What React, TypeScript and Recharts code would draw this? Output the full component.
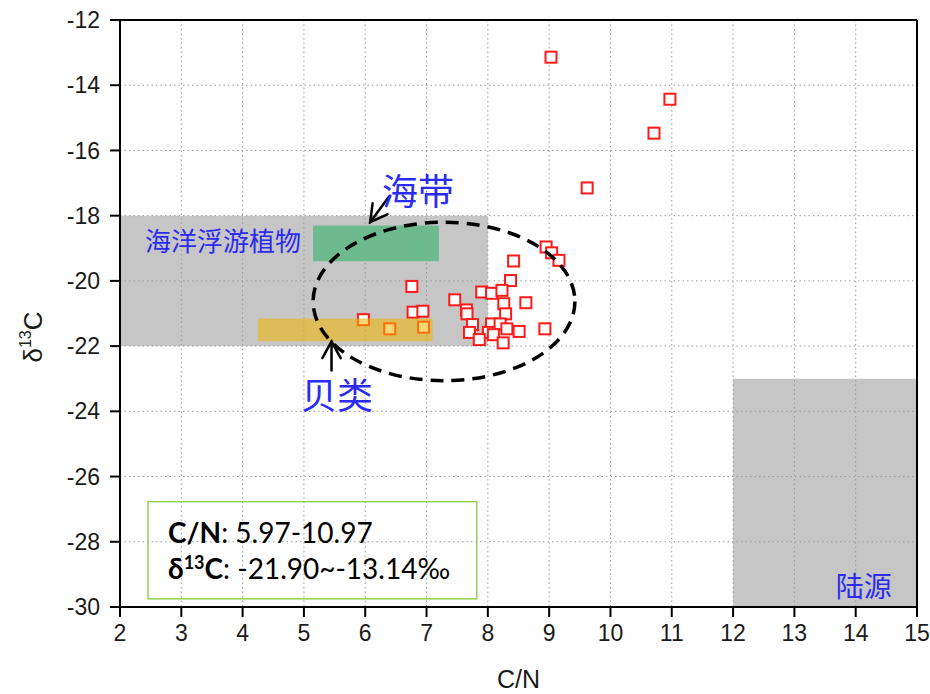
import {
  ScatterChart,
  Scatter,
  XAxis,
  YAxis,
  CartesianGrid,
  ReferenceArea,
  ReferenceLine,
  ReferenceDot,
} from "recharts";

// C/N ratio and δ13C (‰) of the sediment samples
const cnValues = [
  9.03, 10.97, 10.71, 9.62, 8.95, 9.04, 9.16, 8.42, 8.37, 6.76, 7.9, 8.06,
  8.23, 7.46, 8.62, 8.26, 7.65, 7.66, 8.29, 6.78, 6.94, 5.97, 6.4, 6.95, 7.75,
  8.06, 8.2, 8.31, 7.7, 8.01, 8.09, 8.51, 8.93, 7.86, 8.25,
];
const d13cValues = [
  -13.14, -14.43, -15.47, -17.15, -18.96, -19.14, -19.37, -19.39, -19.99,
  -20.17, -20.34, -20.38, -20.29, -20.58, -20.67, -20.7, -20.89, -21.01,
  -21.01, -20.96, -20.93, -21.19, -21.47, -21.42, -21.34, -21.32, -21.32,
  -21.47, -21.58, -21.58, -21.65, -21.55, -21.47, -21.8, -21.9,
];

const xTicks = [2, 3, 4, 5, 6, 7, 8, 9, 10, 11, 12, 13, 14, 15];
const yTicks = [-30, -28, -26, -24, -22, -20, -18, -16, -14, -12];

// source end-member ranges
const marinePlankton = { x1: 2, x2: 8, y1: -22, y2: -18 };
const kelp = { x1: 5.15, x2: 7.2, y1: -19.4, y2: -18.3 };
const shellfish = { x1: 4.25, x2: 7.1, y1: -21.85, y2: -21.15 };
const terrestrial = { x1: 12, x2: 15, y1: -30, y2: -23 };

const sampleRange = { x1: 5.15, x2: 9.42, y1: -23.06, y2: -18.2 };
const statsBox = { x1: 2.457, x2: 7.82, y1: -29.75, y2: -26.77 };

const notes = [
  { text: "海洋浮游植物", x: 3.68, y: -18.73, size: 26 },
  { text: "海带", x: 6.86, y: -17.19, size: 36 },
  { text: "贝类", x: 5.54, y: -23.43, size: 36 },
  { text: "陆源", x: 14.13, y: -29.34, size: 28 },
];

const arrows = [
  { from: { x: 6.39, y: -17.41 }, to: { x: 6.08, y: -18.2 } },
  { from: { x: 5.45, y: -22.75 }, to: { x: 5.45, y: -21.86 } },
];

const data = cnValues.map((cn, i) => ({ cn, d13c: d13cValues[i] }));

const BLUE = "#2b2bf2";
const CJK = "'Noto Sans CJK SC', sans-serif";
const AXIS_FONT = "'Liberation Sans', Arial, sans-serif";

function SquareMark(props: any) {
  const { cx, cy } = props;
  return (
    <rect
      x={cx - 5.5}
      y={cy - 5.5}
      width={11}
      height={11}
      fill="#fff"
      stroke="#ff1a1a"
      strokeWidth={2}
    />
  );
}

function Arrow(props: any) {
  const { x1, y1, x2, y2 } = props;
  const ang = Math.atan2(y1 - y2, x1 - x2);
  const len = 19;
  const spread = (29 * Math.PI) / 180;
  const a1 = { x: x2 + len * Math.cos(ang + spread), y: y2 + len * Math.sin(ang + spread) };
  const a2 = { x: x2 + len * Math.cos(ang - spread), y: y2 + len * Math.sin(ang - spread) };
  return (
    <g stroke="#000" strokeWidth={2.5} fill="none" strokeLinecap="round">
      <line x1={x1} y1={y1} x2={x2} y2={y2} />
      <polyline points={`${a1.x},${a1.y} ${x2},${y2} ${a2.x},${a2.y}`} />
    </g>
  );
}

function StatsBox(props: any) {
  const { x, y, width, height } = props;
  return (
    <g>
      <rect x={x} y={y} width={width} height={height} fill="none" stroke="#92d050" strokeWidth={1.5} />
      <text x={x + 20} y={y + 41} fontFamily="Lato, sans-serif" fontSize={28} fill="#000">
        <tspan fontWeight="bold">C/N</tspan>: 5.97-10.97
      </text>
      <text x={x + 20} y={y + 77} fontFamily="Lato, sans-serif" fontSize={28} fill="#000">
        <tspan fontWeight="bold">δ</tspan>
        <tspan fontWeight="bold" fontSize={18} dy={-10}>13</tspan>
        <tspan fontWeight="bold" dy={10}>C</tspan>: -21.90~-13.14‰
      </text>
    </g>
  );
}

function RangeEllipse(props: any) {
  const { x, y, width, height } = props;
  return (
    <ellipse
      cx={x + width / 2}
      cy={y + height / 2}
      rx={width / 2}
      ry={height / 2}
      fill="none"
      stroke="#000"
      strokeWidth={3.5}
      strokeDasharray="13 8"
    />
  );
}

export default function App() {
  // pinned to the viewport so the page never grows a scrollbar
  return (
    <div style={{ position: "fixed", left: 0, top: 0, width: 930, height: 694, background: "#fff" }}>
      <ScatterChart
        width={930}
        height={694}
        margin={{ top: 20, right: 13, bottom: 37, left: 60 }}
      >
        <ReferenceArea {...marinePlankton} fill="#c6c6c6" fillOpacity={1} stroke="none" zIndex={-200} />
        <ReferenceArea {...terrestrial} fill="#c6c6c6" fillOpacity={1} stroke="none" zIndex={-200} />
        <ReferenceArea {...kelp} fill="#6dba8e" fillOpacity={1} stroke="none" zIndex={-150} />
        <CartesianGrid stroke="#9a9a9a" strokeDasharray="1.5 3" horizontal vertical />
        <XAxis
          type="number"
          dataKey="cn"
          domain={[2, 15]}
          ticks={xTicks}
          interval={0}
          height={50}
          tickSize={10}
          tickMargin={8}
          axisLine={{ stroke: "#000", strokeWidth: 2 }}
          tickLine={{ stroke: "#000", strokeWidth: 2 }}
          tick={{ fill: "#1a1a1a", fontSize: 23, fontFamily: AXIS_FONT }}
          label={{
            content: ({ viewBox }: any) => (
              <text
                x={viewBox.x + viewBox.width / 2}
                y={viewBox.y + 81}
                textAnchor="middle"
                fontSize={25}
                fontFamily={AXIS_FONT}
                fill="#1a1a1a"
              >
                C/N
              </text>
            ),
          }}
        />
        <YAxis
          type="number"
          dataKey="d13c"
          domain={[-30, -12]}
          ticks={yTicks}
          interval={0}
          width={60}
          tickSize={10}
          tickMargin={10}
          axisLine={{ stroke: "#000", strokeWidth: 2 }}
          tickLine={{ stroke: "#000", strokeWidth: 2 }}
          tick={{ fill: "#1a1a1a", fontSize: 23, fontFamily: AXIS_FONT }}
          label={{
            content: () => (
              <text
                transform="translate(42, 337) rotate(-90)"
                textAnchor="middle"
                fontSize={26}
                fontFamily={AXIS_FONT}
                fill="#1a1a1a"
              >
                δ<tspan fontSize={16} dy={-11}>13</tspan>
                <tspan dy={11}>C</tspan>
              </text>
            ),
          }}
        />
        <ReferenceLine y={-12} stroke="#000" strokeWidth={2} />
        <ReferenceLine x={15} stroke="#000" strokeWidth={2} />
        <Scatter data={data} shape={SquareMark} isAnimationActive={false} />
        <ReferenceArea {...shellfish} fill="#f2b600" fillOpacity={0.55} stroke="none" zIndex={700} />
        <ReferenceArea {...sampleRange} shape={RangeEllipse} zIndex={800} />
        <ReferenceArea {...statsBox} shape={StatsBox} zIndex={800} />
        {arrows.map((a, i) => (
          <ReferenceLine key={`arrow-${i}`} segment={[a.from, a.to]} shape={Arrow} zIndex={900} />
        ))}
        {notes.map((n) => (
          <ReferenceDot
            key={n.text}
            x={n.x}
            y={n.y}
            zIndex={2000}
            shape={(p: any) => (
              <text
                x={p.cx}
                y={p.cy}
                textAnchor="middle"
                dominantBaseline="central"
                fontSize={n.size}
                fontFamily={CJK}
                fill={BLUE}
              >
                {n.text}
              </text>
            )}
          />
        ))}
      </ScatterChart>
    </div>
  );
}
